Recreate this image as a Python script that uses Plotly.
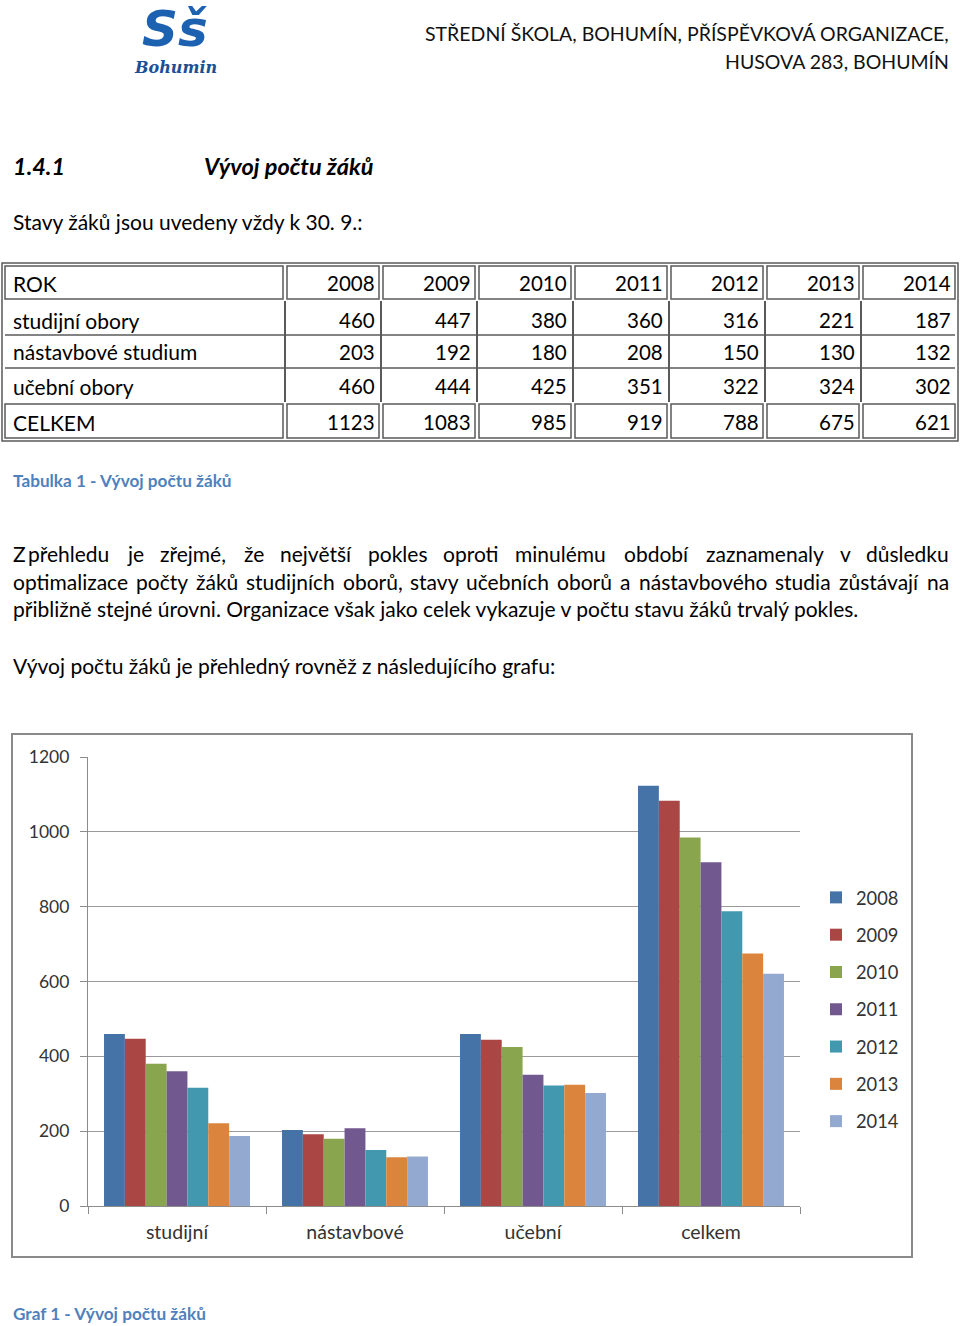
import plotly.graph_objects as go

# ---------------- data ----------------
categories = ["studijní", "nástavbové", "učební", "celkem"]
years = ["2008", "2009", "2010", "2011", "2012", "2013", "2014"]
studijni = [460, 447, 380, 360, 316, 221, 187]
nastavbove = [203, 192, 180, 208, 150, 130, 132]
ucebni = [460, 444, 425, 351, 322, 324, 302]
celkem = [1123, 1083, 985, 919, 788, 675, 621]
row_labels = ["studijní obory", "nástavbové studium", "učební obory", "CELKEM"]
y_ticks = [0, 200, 400, 600, 800, 1000, 1200]

colors = ["#4572A7", "#AA4643", "#89A54E", "#71588F", "#4198AF", "#DB843D", "#93A9CF"]

W, H = 960, 1326
FONT = "Lato, 'Open Sans', sans-serif"
BLUE_CAP = "#4F81BD"


def px(x):
    return x / W


def py(y):
    return 1 - y / H


fig = go.Figure()
for i, yr in enumerate(years):
    fig.add_trace(go.Bar(
        x=categories,
        y=[studijni[i], nastavbove[i], ucebni[i], celkem[i]],
        name=yr,
        legendgroup=yr,
        marker=dict(color=colors[i], line=dict(width=0)),
    ))

annotations = []
shapes = []


def text(x, y, s, size, color="#000000", anchor="left", family=FONT):
    if anchor == "right":
        x += 2
    annotations.append(dict(
        x=px(x), y=py(y), xref="paper", yref="paper", text=s,
        showarrow=False, xanchor=anchor, yanchor="middle",
        font=dict(size=size, color=color, family=family), borderpad=0,
    ))


# approximate Lato advance widths (em) for justified line layout
LATO_W = {
    "a": .51, "b": .56, "c": .46, "d": .56, "e": .53, "f": .33, "g": .50, "h": .56,
    "i": .24, "j": .24, "k": .50, "l": .24, "m": .84, "n": .56, "o": .56, "p": .56,
    "r": .36, "s": .42, "t": .34, "u": .56, "v": .50, "y": .50, "z": .45, ",": .21,
    ".": .21,
}
STRIP = str.maketrans("áčďéěíňóřšťúůýž", "acdeeinorstuuyz")


def word_width(w, size):
    return sum(LATO_W.get(ch, .52) for ch in w.lower().translate(STRIP)) * size


def justified(line, y, x0, x1, size):
    words = line.split(" ")
    widths = [word_width(w, size) for w in words]
    gap = (x1 - x0 - sum(widths)) / (len(words) - 1)
    x = x0
    for k, (w, wd) in enumerate(zip(words, widths)):
        if k == len(words) - 1:
            text(x1, y, w, size, anchor="right")
        else:
            text(x, y, w, size)
        x += wd + gap


# ---------------- logo ----------------
text(175, 29, "<b><i>Sš</i></b>", 50, "#1d62b0", "center", "'DejaVu Sans', sans-serif")
text(175, 67, "<b><i>Bohumin</i></b>", 16, "#1d4f96", "center", "'DejaVu Serif', serif")

# ---------------- header ----------------
text(948, 33, "STŘEDNÍ ŠKOLA, BOHUMÍN, PŘÍSPĚVKOVÁ ORGANIZACE,", 19.5, "#111111", "right")
text(948, 61, "HUSOVA 283, BOHUMÍN", 19.5, "#111111", "right")

text(12, 166, "<b><i>1.4.1</i></b>", 23.5)
text(203, 166, "<b><i>Vývoj počtu žáků</i></b>", 23.5)
BS = 21
text(12, 222, "Stavy žáků jsou uvedeny vždy k 30. 9.:", BS)

# ---------------- table ----------------
col_x = [3, 285, 381, 477, 573, 669, 765, 861, 957]
row_y = [264, 301, 335, 368, 402, 440]
LC = "#5a5a5a"
shapes.append(dict(type="rect", xref="paper", yref="paper",
                   x0=px(2), x1=px(958), y0=py(263), y1=py(441),
                   line=dict(color=LC, width=1.5)))
ins = 2
for r in (0, 4):
    for c in range(8):
        shapes.append(dict(type="rect", xref="paper", yref="paper",
                           x0=px(col_x[c] + ins), x1=px(col_x[c + 1] - ins),
                           y0=py(row_y[r] + ins), y1=py(row_y[r + 1] - ins),
                           line=dict(color=LC, width=1.5)))
for c in range(1, 8):
    shapes.append(dict(type="line", xref="paper", yref="paper",
                       x0=px(col_x[c]), x1=px(col_x[c]),
                       y0=py(row_y[1]), y1=py(row_y[4]),
                       line=dict(color=LC, width=2)))
for r in (2, 3):
    shapes.append(dict(type="line", xref="paper", yref="paper",
                       x0=px(col_x[0] + 2), x1=px(col_x[-1] - 2),
                       y0=py(row_y[r]), y1=py(row_y[r]),
                       line=dict(color=LC, width=1.5)))

row_cy = [283, 320, 352, 386, 422]
TS = 21
NS = 20.5
text(12, row_cy[0], "ROK", TS)
for j, yr in enumerate(years):
    text(col_x[j + 2] - 7, row_cy[0], yr, NS, anchor="right")
table_rows = [studijni, nastavbove, ucebni, celkem]
for r, (lab, vals) in enumerate(zip(row_labels, table_rows)):
    text(12, row_cy[r + 1], lab, TS)
    for j, v in enumerate(vals):
        text(col_x[j + 2] - 7, row_cy[r + 1], str(v), NS, anchor="right")

text(12, 480, "<b>Tabulka 1 - Vývoj počtu žáků</b>", 17.2, BLUE_CAP)

# ---------------- paragraph ----------------
line1 = [("Z", 12), ("přehledu", 27), ("je", 126), ("zřejmé,", 159), ("že", 243),
         ("největší", 279), ("pokles", 367), ("oproti", 442), ("minulému", 514),
         ("období", 623), ("zaznamenaly", 705), ("v", 839)]
for w, x in line1:
    text(x, 553, w, BS)
text(948, 553, "důsledku", BS, anchor="right")
justified("optimalizace počty žáků studijních oborů, stavy učebních oborů a nástavbového studia zůstávají na",
          581, 12, 948, BS)
text(12, 609, "přibližně stejné úrovni. Organizace však jako celek vykazuje v počtu stavu žáků trvalý pokles.", BS)
text(12, 665, "Vývoj počtu žáků je přehledný rovněž z následujícího grafu:", BS)

# chart border
shapes.append(dict(type="rect", xref="paper", yref="paper",
                   x0=px(12), x1=px(912), y0=py(734), y1=py(1257),
                   line=dict(color="#8a8a8a", width=2)))

text(12, 1313, "<b>Graf 1 - Vývoj počtu žáků</b>", 17.2, BLUE_CAP)

AX = "#8c8c8c"
fig.update_layout(
    width=W, height=H, autosize=False,
    margin=dict(l=0, r=0, t=0, b=0, pad=0),
    paper_bgcolor="white", plot_bgcolor="white",
    barmode="group", bargap=0.18, bargroupgap=0,
    font=dict(family=FONT, color="#222222"),
    xaxis=dict(domain=[px(88), px(800)], showline=True, linecolor=AX, linewidth=1.2,
               ticks="outside", ticklen=7, tickcolor=AX, tickson="boundaries",
               tickfont=dict(size=19.5, color="#333333"), ticklabelstandoff=8,
               showgrid=False, automargin=False),
    yaxis=dict(domain=[py(1206), py(757)], range=[0, 1200], tickvals=y_ticks,
               showline=True, linecolor=AX, linewidth=1.2,
               ticks="outside", ticklen=7, tickcolor=AX,
               gridcolor="#9a9a9a", gridwidth=1, zeroline=False,
               tickfont=dict(size=17.5, color="#333333"), ticklabelstandoff=7,
               automargin=False),
    legend=dict(x=px(816), y=py(879), xanchor="left", yanchor="top",
                font=dict(size=18.3, color="#333333"), tracegroupgap=10.5,
                traceorder="grouped", bgcolor="rgba(0,0,0,0)"),
    annotations=annotations,
    shapes=shapes,
)

fig.write_html("out.html", config={"displayModeBar": False})
